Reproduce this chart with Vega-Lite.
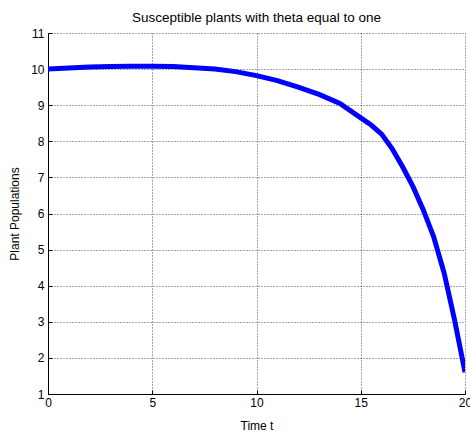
{
  "$schema": "https://vega.github.io/schema/vega-lite/v6.json",
  "width": 417,
  "height": 361,
  "autosize": {"type": "none"},
  "padding": {"left": 48, "top": 33, "right": 5, "bottom": 38},
  "background": "white",
  "title": {
    "text": "Susceptible plants with theta equal to one",
    "font": "Liberation Sans",
    "fontSize": 13.5,
    "fontWeight": "normal",
    "color": "#000",
    "anchor": "middle",
    "offset": 3
  },
  "data": {
    "values": [
      {"t": 0, "p": 10.0},
      {"t": 1, "p": 10.03},
      {"t": 2, "p": 10.06},
      {"t": 3, "p": 10.07},
      {"t": 4, "p": 10.08},
      {"t": 5, "p": 10.08},
      {"t": 6, "p": 10.07},
      {"t": 7, "p": 10.04},
      {"t": 8, "p": 10.0},
      {"t": 9, "p": 9.93},
      {"t": 10, "p": 9.82},
      {"t": 11, "p": 9.68},
      {"t": 12, "p": 9.5},
      {"t": 13, "p": 9.3},
      {"t": 14, "p": 9.05},
      {"t": 15, "p": 8.65},
      {"t": 15.5, "p": 8.45},
      {"t": 16, "p": 8.2},
      {"t": 16.5, "p": 7.8},
      {"t": 17, "p": 7.3},
      {"t": 17.5, "p": 6.75},
      {"t": 18, "p": 6.1},
      {"t": 18.5, "p": 5.35},
      {"t": 19, "p": 4.35},
      {"t": 19.5, "p": 3.05},
      {"t": 20, "p": 1.6}
    ]
  },
  "mark": {"type": "line", "color": "#0000ff", "strokeWidth": 5, "clip": true},
  "encoding": {
    "x": {
      "field": "t",
      "type": "quantitative",
      "scale": {"domain": [0, 20], "nice": false, "zero": false},
      "axis": {"values": [0, 5, 10, 15, 20], "title": "Time t", "titlePadding": 12, "labelPadding": 7}
    },
    "y": {
      "field": "p",
      "type": "quantitative",
      "scale": {"domain": [1, 11], "nice": false, "zero": false},
      "axis": {"values": [1, 2, 3, 4, 5, 6, 7, 8, 9, 10, 11], "title": "Plant Populations", "titlePadding": 9, "labelPadding": 8}
    }
  },
  "config": {
    "view": {"stroke": null},
    "axis": {
      "labelFont": "Liberation Sans",
      "titleFont": "Liberation Sans",
      "labelFontSize": 12,
      "titleFontSize": 12,
      "titleFontWeight": "normal",
      "labelColor": "#000",
      "titleColor": "#000",
      "domainColor": "#000",
      "domainWidth": 1,
      "tickColor": "#000",
      "tickSize": -4,
      "grid": true,
      "gridColor": "#000",
      "gridDash": [1, 2],
      "gridOpacity": 0.7,
      "gridWidth": 1,
      "labelFlush": false
    }
  }
}
